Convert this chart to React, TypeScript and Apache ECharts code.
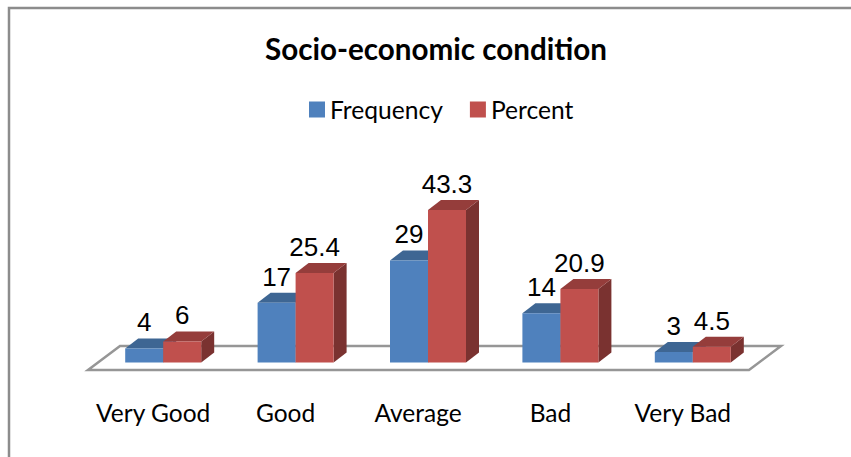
import React, { useEffect, useRef } from "react";
import * as echarts from "echarts";

const categories = ["Very Good", "Good", "Average", "Bad", "Very Bad"];
const frequency = [4, 17, 29, 14, 3];
const percent = [6, 25.4, 43.3, 20.9, 4.5];

const FONT = "Lato, 'Noto Sans', sans-serif";
const DEPTH_X = 13;
const DEPTH_Y = 10;
const BAR_W = 38;

function barRenderer(side: number, front: string, top: string, right: string) {
  return (params: any, api: any) => {
    const idx = api.value(0);
    const val = api.value(1);
    const [cx, yTop] = api.coord([idx, val]);
    const [, yBase] = api.coord([idx, 0]);
    const x0 = cx + (side < 0 ? -BAR_W : 0);
    const x1 = x0 + BAR_W;
    return {
      type: "group",
      children: [
        {
          type: "polygon",
          shape: { points: [[x1, yTop], [x1 + DEPTH_X, yTop - DEPTH_Y], [x1 + DEPTH_X, yBase - DEPTH_Y], [x1, yBase]] },
          style: { fill: right },
        },
        {
          type: "polygon",
          shape: { points: [[x0, yTop], [x0 + DEPTH_X, yTop - DEPTH_Y], [x1 + DEPTH_X, yTop - DEPTH_Y], [x1, yTop]] },
          style: { fill: top },
        },
        {
          type: "rect",
          shape: { x: x0, y: yTop, width: BAR_W, height: yBase - yTop },
          style: { fill: front },
        },
        {
          type: "text",
          style: {
            text: String(val),
            x: (x0 + x1) / 2,
            y: yTop - 26,
            align: "center",
            verticalAlign: "middle",
            fill: "#000",
            font: "26px 'Liberation Sans', Arial, sans-serif",
          },
        },
      ],
    };
  };
}

export default function App() {
  const ref = useRef<HTMLDivElement>(null);
  useEffect(() => {
    const chart = echarts.init(ref.current!, undefined, { renderer: "svg" });
    chart.setOption({
      animation: false,
      backgroundColor: "#fff",
      title: {
        text: "Socio-economic condition",
        left: 431,
        top: 28,
        textAlign: "center",
        textStyle: { fontFamily: FONT, fontWeight: "bold", fontSize: 29.6, color: "#000" },
      },
      legend: {
        left: 304,
        top: 92,
        icon: "rect",
        itemWidth: 16,
        itemHeight: 16,
        itemGap: 27,
        textStyle: { fontFamily: FONT, fontSize: 24.6, color: "#000" },
        data: ["Frequency", "Percent"],
      },
      grid: { left: 97, top: 151.3, width: 662, height: 211.2 },
      xAxis: {
        type: "category",
        data: categories,
        axisLine: { show: false },
        axisTick: { show: false },
        axisLabel: { fontFamily: FONT, fontSize: 24.5, color: "#000", margin: 37, interval: 0, padding: [0, 20, 0, 0] },
      },
      yAxis: { type: "value", min: 0, max: 60, show: false },
      graphic: [
        {
          type: "polygon",
          z: 0,
          shape: { points: [[88, 370], [749, 370], [781, 346], [120, 346]] },
          style: { fill: "#fff", stroke: "#969696", lineWidth: 2.5 },
        },
        {
          type: "polyline",
          z: 0,
          shape: { points: [[9, 457], [9, 8], [851, 8]] },
          style: { fill: "none", stroke: "#8c8c8c", lineWidth: 2.5 },
        },
      ],
      series: [
        {
          name: "Frequency",
          type: "custom",
          z: 5,
          itemStyle: { color: "#4F81BD" },
          encode: { x: 0, y: 1 },
          data: frequency.map((v, i) => [i, v]),
          renderItem: barRenderer(-1, "#4F81BD", "#3E6693", "#335680"),
        },
        {
          name: "Percent",
          type: "custom",
          z: 6,
          itemStyle: { color: "#C0504D" },
          encode: { x: 0, y: 1 },
          data: percent.map((v, i) => [i, v]),
          renderItem: barRenderer(1, "#C0504D", "#953D3B", "#7A3230"),
        },
      ],
    });
    return () => chart.dispose();
  }, []);
  return <div ref={ref} style={{ position: "fixed", left: 0, top: 0, width: 851, height: 457 }} />;
}
